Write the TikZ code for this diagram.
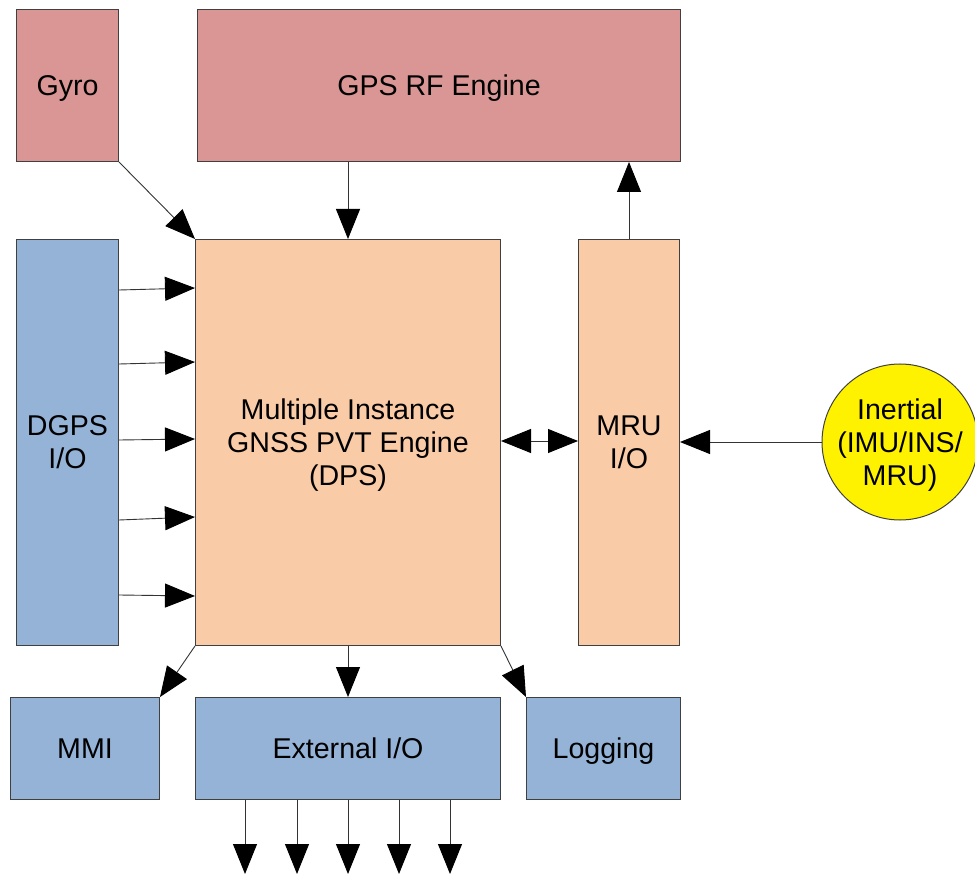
\documentclass[tikz,border=0pt]{standalone}
\usepackage{fontspec}
\setmainfont{Liberation Sans}
\usetikzlibrary{arrows.meta}
\definecolor{rfred}{HTML}{D99694}
\definecolor{ioblue}{HTML}{95B3D7}
\definecolor{engpeach}{HTML}{F9CBA7}
\definecolor{edgegray}{HTML}{404040}
\tikzset{
  blk/.style={draw=edgegray, line width=1pt, rectangle, anchor=north west,
    inner sep=0pt, align=center, font=\fontsize{28.6}{33}\selectfont,
    text depth=0pt},
  redblk/.style={blk, fill=rfred},
  blueblk/.style={blk, fill=ioblue},
  peachblk/.style={blk, fill=engpeach},
  bighead/.tip={Triangle[length=30pt,width=24pt,color=black]},
  arr/.style={draw=black!80, line width=0.9pt, -{bighead}},
  dblarr/.style={draw=black!80, line width=0.9pt, {bighead}-{bighead}}
}
\begin{document}
\begin{tikzpicture}[x=1pt,y=-1pt]
\useasboundingbox (0,0) rectangle (975,874);
\clip (0,0) rectangle (975,874);

% sensors and RF front end
\node[redblk, minimum width=102pt, minimum height=152pt] (gyro) at (16,9) {Gyro};
\node[redblk, minimum width=483pt, minimum height=152pt] (rf) at (197,9) {GPS RF Engine};

% central engine and side I/O
\node[blueblk, minimum width=102pt, minimum height=406pt] (dgps) at (16,239) {DGPS\\I/O};
\node[peachblk, minimum width=305pt, minimum height=406pt] (main) at (195,239)
  {Multiple Instance\\GNSS PVT Engine\\(DPS)};
\node[peachblk, minimum width=101pt, minimum height=406pt] (mru) at (578,239) {MRU\\I/O};

% inertial sensor
\node[draw=edgegray, line width=1pt, circle, fill=yellow, minimum size=156pt,
  inner sep=0pt, align=center, font=\fontsize{28.6}{33}\selectfont, text depth=0pt]
  (ins) at (900,442) {Inertial\\(IMU/INS/\\MRU)};

% outputs
\node[blueblk, minimum width=149pt, minimum height=102pt] (mmi) at (10,697) {MMI};
\node[blueblk, minimum width=305pt, minimum height=102pt] (ext) at (195,697) {External I/O};
\node[blueblk, minimum width=154pt, minimum height=102pt] (log) at (526,697) {Logging};

% free ends of the external outputs
\coordinate (o1) at (245,874);
\coordinate (o2) at (297,874);
\coordinate (o3) at (348,874);
\coordinate (o4) at (399,874);
\coordinate (o5) at (450,874);

% connectors
\draw[arr] (gyro.south east) -- (main.north west);
\draw[arr] (rf.south -| main.north) -- (main.north);
\draw[arr] (mru.north) -- (rf.south -| mru.north);

\draw[arr] ([yshift=-51pt]dgps.north east) -- ([yshift=-49pt]main.north west);
\draw[arr] ([yshift=-125pt]dgps.north east) -- ([yshift=-123pt]main.north west);
\draw[arr] ([yshift=-201pt]dgps.north east) -- ([yshift=-200pt]main.north west);
\draw[arr] ([yshift=-281pt]dgps.north east) -- ([yshift=-278pt]main.north west);
\draw[arr] ([yshift=-356pt]dgps.north east) -- ([yshift=-357pt]main.north west);

\draw[dblarr] ([yshift=-202pt]main.north east) -- ([yshift=-202pt]mru.north west);
\draw[arr] (ins.west) -- (ins.west -| mru.east);

\draw[arr] (main.south west) -- (mmi.north east);
\draw[arr] (main.south) -- (ext.north);
\draw[arr] (main.south east) -- (log.north west);

\foreach \k in {1,...,5}
  \draw[arr] (o\k |- ext.south) -- (o\k);
\end{tikzpicture}
\end{document}
